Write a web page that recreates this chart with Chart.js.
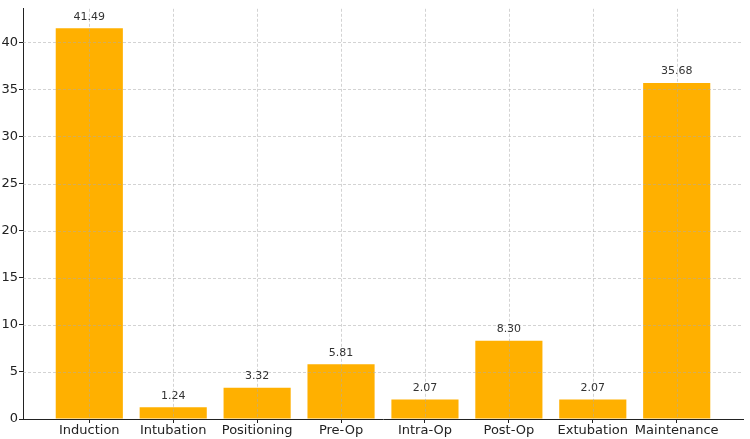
<!DOCTYPE html>
<html>
<head>
<meta charset="utf-8">
<script src="https://cdn.jsdelivr.net/npm/chart.js@4.4.1/dist/chart.umd.min.js"></script>
<style>
  html, body { margin: 0; padding: 0; background: #fff; }
  #wrap { width: 750px; height: 439px; }
</style>
</head>
<body>
<div id="wrap"><canvas id="phase-chart"></canvas></div>
<script>
const phases = ['Induction', 'Intubation', 'Positioning', 'Pre-Op', 'Intra-Op', 'Post-Op', 'Extubation', 'Maintenance']
const percentages = [41.49, 1.24, 3.32, 5.81, 2.07, 8.30, 2.07, 35.68]
const y_ticks = [0, 5, 10, 15, 20, 25, 30, 35, 40]

const points = phases.map((p, i) => ({ x: i, y: percentages[i] }))

// dashed grid over the bars, like the original
const gridOnTop = {
    id: 'gridOnTop',
    afterDatasetsDraw(chart) {
        const ctx = chart.ctx
        const area = chart.chartArea
        const xs = chart.scales.x
        const ys = chart.scales.y
        ctx.save()
        ctx.strokeStyle = 'rgba(170,170,170,0.65)'
        ctx.lineWidth = 0.8
        ctx.setLineDash([3, 2])
        xs.ticks.forEach((t) => {
            const px = Math.round(xs.getPixelForValue(t.value)) + 0.5
            ctx.beginPath()
            ctx.moveTo(px, area.top)
            ctx.lineTo(px, area.bottom)
            ctx.stroke()
        })
        ys.ticks.forEach((t) => {
            if (t.value === 0) return
            const py = Math.round(ys.getPixelForValue(t.value)) + 0.5
            ctx.beginPath()
            ctx.moveTo(area.left, py)
            ctx.lineTo(area.right, py)
            ctx.stroke()
        })
        ctx.restore()
    }
}

const valueLabels = {
    id: 'valueLabels',
    afterDatasetsDraw(chart) {
        const ctx = chart.ctx
        const meta = chart.getDatasetMeta(0)
        ctx.save()
        ctx.font = '11px "DejaVu Sans"'
        ctx.fillStyle = '#333333'
        ctx.textAlign = 'center'
        ctx.textBaseline = 'bottom'
        meta.data.forEach((bar, i) => {
            ctx.fillText(percentages[i].toFixed(2), bar.x, bar.y - 6)
        })
        ctx.restore()
    }
}

const ctx = document.getElementById('phase-chart')
const phaseChart = new Chart(ctx, {
    type: 'bar',
    data: {
        datasets: [{
            data: points,
            backgroundColor: '#FFB000',
            borderWidth: 0,
            barPercentage: 0.8,
            categoryPercentage: 1.0
        }]
    },
    options: {
        responsive: true,
        maintainAspectRatio: false,
        animation: false,
        layout: { padding: { top: 2, right: 7, left: 0, bottom: 0 } },
        plugins: {
            legend: { display: false },
            tooltip: { enabled: false }
        },
        scales: {
            x: {
                type: 'linear',
                min: -0.79,
                max: 7.79,
                offset: false,
                grid: {
                    display: true,
                    offset: false,
                    drawOnChartArea: false,
                    drawTicks: true,
                    tickLength: 4,
                    color: '#222'
                },
                border: { display: true, color: '#222', width: 1 },
                ticks: {
                    stepSize: 1,
                    includeBounds: false,
                    autoSkip: false,
                    maxRotation: 0,
                    padding: 0,
                    color: '#222',
                    font: { family: '"DejaVu Sans"', size: 13 },
                    callback: (v) => phases[v] ?? ''
                },
                afterFit: (scale) => { scale.height = 20 }
            },
            y: {
                min: 0,
                max: 43.56,
                afterBuildTicks: (scale) => {
                    scale.ticks = y_ticks.map((v) => ({ value: v }))
                },
                grid: {
                    display: true,
                    drawOnChartArea: false,
                    drawTicks: true,
                    tickLength: 4,
                    color: '#222'
                },
                border: { display: true, color: '#222', width: 1 },
                ticks: {
                    padding: 1,
                    color: '#222',
                    font: { family: '"DejaVu Sans"', size: 13 }
                },
                afterFit: (scale) => { scale.width = 23 }
            }
        }
    },
    plugins: [gridOnTop, valueLabels]
})
</script>
</body>
</html>
